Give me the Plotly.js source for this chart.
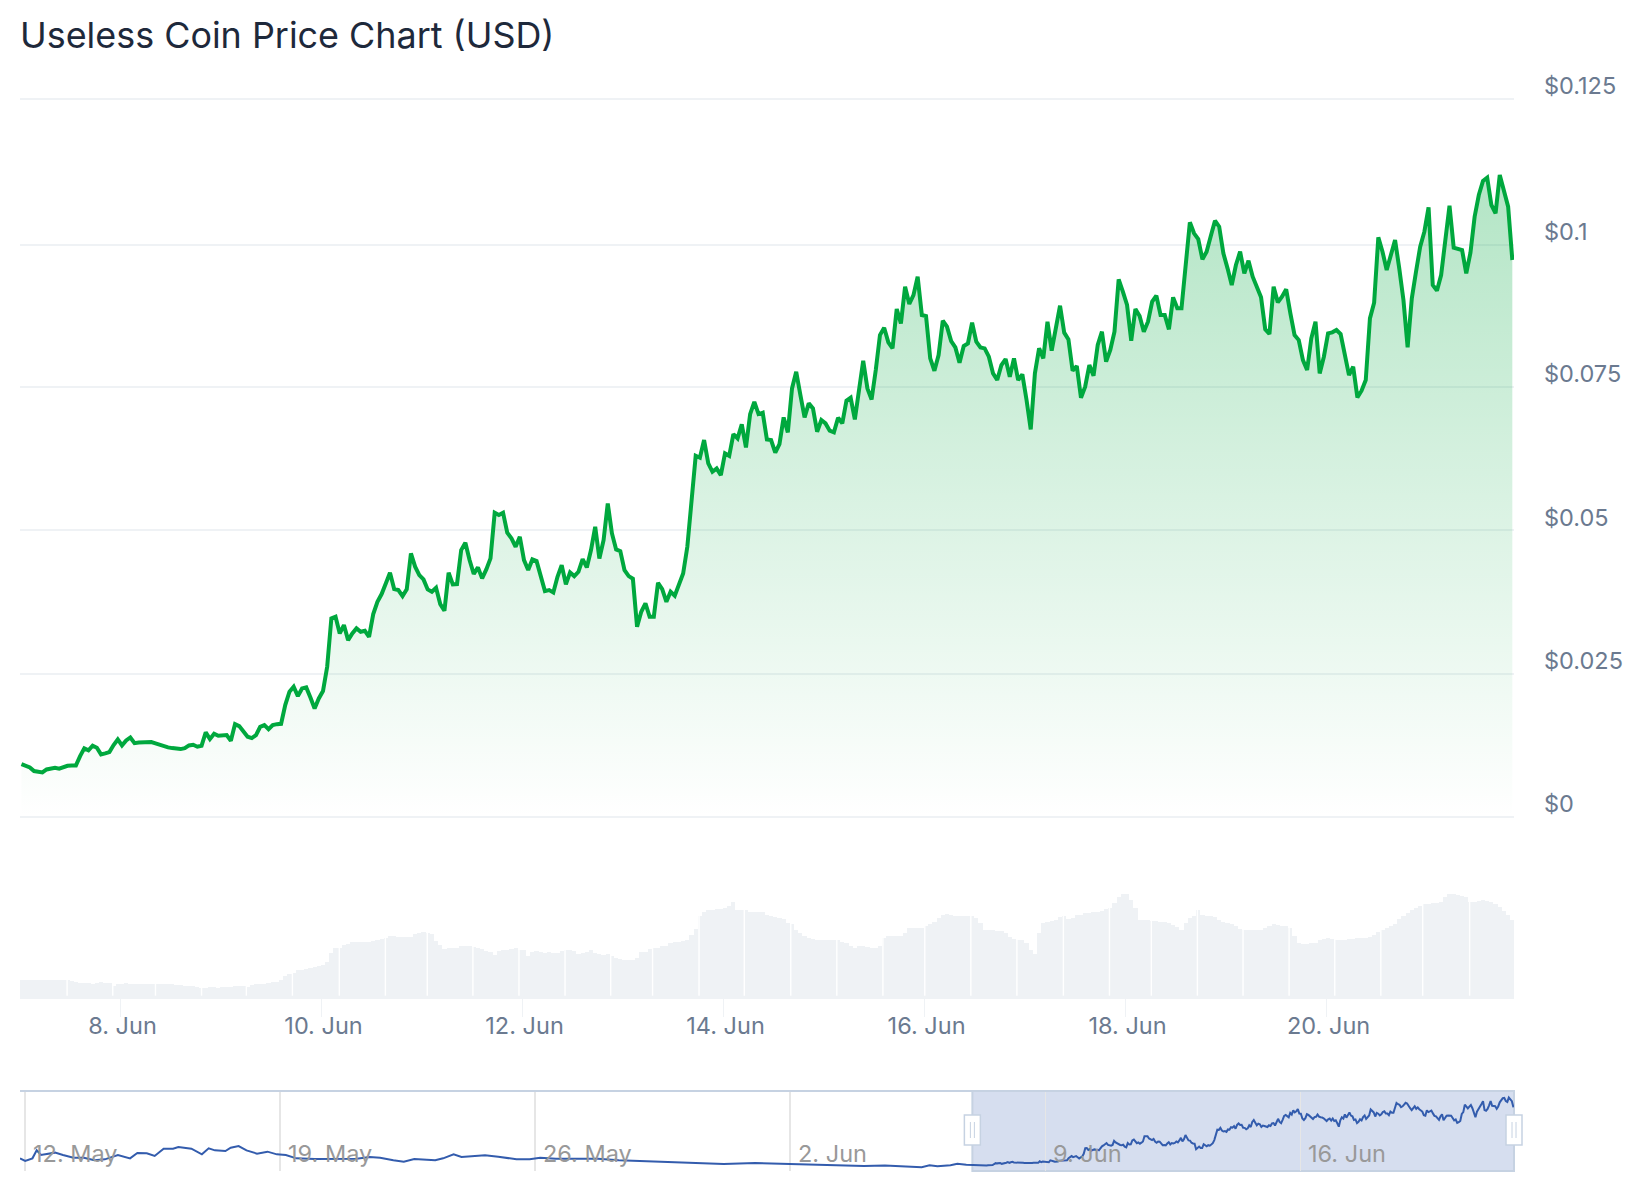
<!DOCTYPE html>
<html>
<head>
<meta charset="utf-8">
<script src="https://cdn.plot.ly/plotly-3.0.1.min.js"></script>
<style>html,body{margin:0;padding:0;background:#fff}</style>
</head>
<body>
<div id="chart" style="width:1644px;height:1200px"></div>
<script>
// Hourly price (USD). First reading 7 Jun 00:21.
const priceValues = [
.00925,.00896,.00867,.00803,.00791,.0078,.00832,.00855,.00861,.00844,.00879,.00896,.00902,.00902,.01065,.01199,.01164,.01245,.0121,.01094,
.01111,.01135,.01257,.01355,.01251,.01338,.0139,.01291,.01303,.01309,.01309,.01309,.01286,.01257,.01233,.01216,.01204,.01187,.01187,.01204,
.01251,.01262,.01228,.01245,.01478,.01361,.01454,.01419,.01425,.01431,.01332,.01623,.01588,.01489,.01402,.01379,.01431,.01575,.01605,.01535,
.01605,.01622,.01628,.0196,.02187,.02274,.02111,.02245,.02263,.02088,.01896,.0207,.02199,.02623,.03466,.03495,.03205,.0335,.03088,.03205,
.03292,.03234,.03251,.03146,.03542,.03757,.03891,.04077,.04263,.03978,.03961,.03856,.03972,.046,.04368,.04222,.04147,.03972,.03931,.04001,
.03716,.036,.04263,.04059,.04065,.04658,.04786,.04484,.0424,.04356,.04164,.04321,.04513,.0531,.05269,.0531,.04961,.04862,.04716,.04891,
.04483,.04309,.04495,.04466,.04193,.03943,.0396,.0392,.04193,.04396,.04059,.04268,.04204,.0428,.04501,.04355,.04658,.05065,.04512,.04832,
.05472,.04948,.04669,.0464,.04309,.04204,.04158,.0332,.03582,.03727,.03495,.03495,.04088,.03977,.03756,.03931,.03861,.04047,.0425,.04716,
.0553,.06303,.06269,.06577,.0617,.06024,.06082,.05966,.06344,.06303,.0668,.06606,.0685,.06449,.0703,.07245,.0703,.07054,.06588,.06577,
.06356,.06507,.06972,.06711,.07478,.07769,.07362,.06972,.07217,.07129,.06722,.06926,.06868,.0674,.06711,.06967,.06868,.07263,.07315,.06937,
.07449,.0796,.07478,.07286,.07798,.08409,.08537,.08281,.08176,.08862,.08612,.09252,.0895,.09106,.09426,.08758,.0874,.08002,.07786,.0806,
.08659,.08554,.08304,.08193,.07926,.08217,.08263,.08624,.08292,.08193,.08176,.08031,.0774,.07624,.07885,.0799,.07682,.08002,.07624,.07723,
.07275,.06764,.07741,.08177,.08002,.08642,.08136,.08555,.08921,.0845,.08334,.07787,.07869,.07316,.07508,.07886,.077,.08235,.08468,.07944,
.08148,.08468,.0938,.09165,.08933,.08311,.08863,.08741,.08468,.08642,.08991,.09096,.08758,.08758,.08508,.09066,.08875,.08875,.09601,.10375,
.10183,.10084,.09729,.09863,.10136,.10404,.10299,.09834,.09572,.09282,.09631,.09863,.09485,.09706,.09427,.09223,.09066,.08508,.08427,.09252,
.08979,.09078,.09206,.08787,.08409,.08322,.07973,.07799,.08351,.08642,.0774,.08031,.08438,.08456,.08496,.08426,.08089,.07711,.07857,.07322,
.07438,.07624,.087,.08973,.10113,.09863,.09543,.09805,.10066,.09572,.0902,.08194,.09049,.09514,.0995,.10212,.10636,.09281,.09183,.09456,
.10008,.10665,.09933,.09904,.09892,.09485,.09845,.10473,.10851,.11096,.11154,.10677,.10532,.112,.10939,.10648,.09718
];

// Hourly volume (millions USD, estimated: the chart shows no volume scale).
const volumeValues = [
17.3,17.3,17.3,17.3,17.3,17.3,17.3,17.3,17.3,17.3,17.3,17.3,16.3,15.3,14,13.7,13.7,13.3,13.7,14.7,
14,13.7,11.3,12.7,13,13.7,13.3,13,13,13,13,12.7,12.7,13,13,13,13,12.3,12,11,
10.7,10.7,10,9,9,10,10,9.3,10,9.7,9.7,10.7,11,11,10,12,12.7,13,13.3,13.7,
14.7,15,16.7,20.7,22.7,24,27,27.3,28,28.7,30,31.3,32.3,34.7,44,48.7,49,52,53.3,54.7,
55,55.3,55.3,55.3,55.7,57.3,58,59,60.7,60.7,60,59.7,59.7,60,63.3,64.3,65,64,63.3,55.7,
52.3,48,49,49,49,51.3,51.3,51.3,49.7,48.7,48,45.7,45.3,42.3,45.7,46.7,47.3,48.3,48.7,46.7,
46.7,41.3,44.7,45.7,45,44,44.7,44,44,46,47.3,46.7,46,43.3,44,44.7,46.7,44,43.3,42.3,
42.7,41.3,39,38,37.3,37.3,37.3,39,44.7,45.3,48,49,49,50.7,51.3,54,55.3,55.3,56,57.3,
62.3,68,80.7,85.3,86.7,87,88,88.3,89,91.3,94.7,87.3,87.3,86.7,85,85,84.7,84.7,82.3,80.7,
80,79,78,74,73.3,67.3,64,60.7,58.7,58,57.3,56.7,57.3,57.3,57.3,57.3,55.3,54,51.3,49,
50.7,51.3,50,49,49,51.3,59,61.3,61.3,61.3,61.3,64,68.7,69,69,69,70.7,73,74.7,79,
82.3,83,81.7,81.3,81.3,81.3,81.3,80.7,79,74,67.3,66.7,66.7,66.3,65.7,64,60,58,57.3,57,
54,46.7,43.3,64,74,74.7,76,77.3,80,80.7,78,78.7,81.7,82.3,84,84,84.7,85.3,85.7,88,
89,94,100,102.7,103.3,97.3,89,77.3,77,76.7,76,75.7,75.3,74.7,74,72.3,70,67.3,74,79,
81.3,87.3,82,81.3,80.7,80,77.3,75.3,74,72.7,70.7,68.3,67.3,67.3,67,66.7,66.7,69,71.3,73,
72,71.3,70.7,69,60.7,54,53.3,53.3,53.7,54,56.7,58,58.7,58,57.3,57.3,57.3,57.7,58,59,
59.3,59.3,60,62.3,64.7,67.3,69,71.3,73.3,78,80.7,84,87.3,89.3,91.3,93,93.3,93.7,94,94.7,
100,103.3,102.7,102,101.3,100,94.7,95.3,96,96.7,95.7,94.7,93.3,90,85.7,82.3,77.3
];

// Thin white seams seen in the volume block, in hours after the first reading.
const volumeSeams = [10.9,21.8,32,43,53.7,64.7,75.9,86.9,96.9,107.8,118.8,129.8,140.7,150.7,161.8,172.6,183.7,
194.7,205.7,215.7,226.7,237.7,248.8,259.8,269.8,280.8,291.7,302.7,313.6,324.6,334.6,345.8];

// Navigator history before the selected window: hours after 12 May 00:00, and price.
const navHours = [-3.3,.1,4.9,7.7,10.5,14.6,19.8,25,31.9,38.8,45.7,52.6,61.2,69.2,74,80.2,85.4,91.3,97.5,101,106.1,109.6,116.5,121,125.1,132,135.5,140.7,145.9,152.8,159.7,165.9,171.8,178.7,190.8,201.1,211.5,218.4,227,233.9,242.6,249.5,256.4,263.3,270.2,275.4,282.3,287.5,294.4,303,311.7,323.7,332.4,339.3,349.7,363.5,377.3,391.1,404.9,418.7,425.6,439.5,460.2,480.9,501.6,515.4,525,545.7,552.6,566.4,576.8,590.6,595.8,601,609.6,614.1,620];
const navValues = [.0193,.0153,.0193,.0315,.0244,.0265,.028,.0244,.0203,.0203,.0163,.0178,.0244,.0193,.0275,.027,.0229,.0341,.0341,.0366,.0346,.0341,.0254,.0346,.0315,.0305,.0356,.0381,.0315,.0265,.0295,.0254,.0244,.0193,.0183,.0183,.0193,.0188,.0214,.0203,.0163,.0143,.0183,.0173,.0163,.0193,.0254,.0214,.0224,.0239,.0219,.0178,.0178,.0203,.0188,.0183,.0188,.0163,.0153,.0137,.0143,.0122,.0107,.0122,.0112,.0097,.0092,.0087,.0076,.0082,.0071,.0056,.0087,.0071,.0087,.0112,.0097];

const priceTickVals = [0,.025,.05,.075,.0998,.1253];
const priceTickLabels = ['$0','$0.025','$0.05','$0.075','$0.1','$0.125'];
const dateTickVals = ['2025-06-08','2025-06-10','2025-06-12','2025-06-14','2025-06-16','2025-06-18','2025-06-20'];
const dateTickLabels = ['8. Jun','10. Jun','12. Jun','14. Jun','16. Jun','18. Jun','20. Jun'];
const navTickVals = ['2025-05-12','2025-05-19','2025-05-26','2025-06-02','2025-06-09','2025-06-16'];
const navTickLabels = ['12. May','19. May','26. May','2. Jun','9. Jun','16. Jun'];

const HOUR = 3600000;
const iso = t => new Date(t).toISOString().slice(0, 19);
const priceStart = Date.UTC(2025, 5, 7, 0, 21);
const navBase = Date.UTC(2025, 4, 12);
const priceDates = priceValues.map((_, i) => iso(priceStart + i * HOUR));
const navDates = navHours.map(h => iso(navBase + h * HOUR)).concat(priceDates);
const navSeries = navValues.concat(priceValues);

const mainRange = ['2025-06-07 00:00:00', '2025-06-21 20:45:00'];
const navRange = ['2025-05-11 20:42:00', '2025-06-21 20:45:00'];
const navStartMs = Date.parse(navRange[0].replace(' ', 'T') + 'Z');
const navEndMs = Date.parse(navRange[1].replace(' ', 'T') + 'Z');
const windowStartMs = Date.UTC(2025, 5, 7);
const windowFrac = (windowStartMs - navStartMs) / (navEndMs - navStartMs);

const fy = px => 1 - px / 1200;
const OUTLINE = '#c6d2e2';
const BAR = '#eff2f5';
const LABEL = '#6b7a90';

const traces = [
  {type:'bar', x:priceDates, y:volumeValues, xaxis:'x', yaxis:'y2', width:HOUR,
   marker:{color:BAR, line:{width:0}}, hoverinfo:'skip'},
  {type:'scatter', mode:'lines', x:priceDates, y:priceValues, xaxis:'x', yaxis:'y',
   line:{color:'#00a83e', width:4, shape:'linear'}, fill:'tozeroy',
   fillgradient:{type:'vertical', colorscale:[[0,'rgba(0,168,62,0)'],[1,'rgba(0,168,62,0.3)']]},
   hoverinfo:'skip'},
  {type:'scatter', mode:'lines', x:navDates, y:navSeries, xaxis:'x2', yaxis:'y3',
   line:{color:'#335cad', width:2}, hoverinfo:'skip'}
];

const shapes = [];
volumeSeams.forEach(h => {
  const d = iso(priceStart + h * HOUR);
  shapes.push({type:'line', xref:'x', yref:'y2', x0:d, x1:d, y0:1.3, y1:107, layer:'above',
    line:{color:'#ffffff', width:1.4}});
});
// navigator outline and selected window
shapes.push({type:'line', xref:'paper', yref:'paper', x0:0, x1:1, y0:fy(1091), y1:fy(1091),
  layer:'above', line:{color:OUTLINE, width:2}});
shapes.push({type:'rect', xref:'paper', yref:'paper', x0:windowFrac, x1:1, y0:fy(1171), y1:fy(1091),
  layer:'below', fillcolor:'rgba(51,92,173,0.2)', line:{color:OUTLINE, width:2}});
[windowFrac, 1].forEach(a => {
  shapes.push({type:'rect', xref:'paper', yref:'paper', xsizemode:'pixel', xanchor:a, x0:-8, x1:8,
    y0:fy(1145), y1:fy(1115), layer:'above', fillcolor:'#ffffff', line:{color:OUTLINE, width:1.5}});
  [-2, 2].forEach(dx => shapes.push({type:'line', xref:'paper', yref:'paper', xsizemode:'pixel', xanchor:a,
    x0:dx, x1:dx, y0:fy(1138), y1:fy(1122), layer:'above', line:{color:OUTLINE, width:1}}));
});

const annotations = navTickVals.map((d, i) => ({
  x:d, xref:'x2', y:fy(1153), yref:'paper', text:navTickLabels[i], showarrow:false,
  xanchor:'left', yanchor:'middle', xshift:6, font:{family:'Inter', size:23.5, color:'#999999'}
}));

const layout = {
  width:1644, height:1200, autosize:false,
  margin:{l:20, r:130, t:0, b:0, pad:0},
  paper_bgcolor:'#ffffff', plot_bgcolor:'rgba(0,0,0,0)',
  showlegend:false, bargap:0, hovermode:false,
  font:{family:'Inter', color:LABEL, size:20},
  title:{text:'Useless Coin Price Chart (USD)', x:20/1644, xref:'container', xanchor:'left',
         y:1-35/1200, yref:'container', yanchor:'middle',
         font:{family:'Inter', size:35.9, color:'#1e293b'}},
  xaxis:{type:'date', domain:[0,1], range:mainRange, anchor:'y2', showgrid:false, zeroline:false,
         tickmode:'array', tickvals:dateTickVals, ticktext:dateTickLabels,
         ticks:'outside', ticklen:18, tickwidth:1, tickcolor:BAR,
         showline:true, linecolor:BAR, linewidth:2, ticklabelstandoff:-11, ticklabelshift:2,
         tickfont:{family:'Inter', size:23.5, color:LABEL}},
  yaxis:{domain:[fy(820), fy(91.9)], range:[-.0005,.1265], anchor:'x', side:'right',
         tickmode:'array', tickvals:priceTickVals, ticktext:priceTickLabels,
         showgrid:true, gridcolor:BAR, gridwidth:2, zeroline:false, showline:false, ticks:'',
         ticklabelstandoff:29, ticklabelshift:-13,
         tickfont:{family:'Inter', size:23.5, color:LABEL}},
  yaxis2:{domain:[fy(997), fy(890)], range:[0,107], anchor:'x', showgrid:false, zeroline:false,
          showticklabels:false, ticks:'', showline:false},
  xaxis2:{type:'date', domain:[0,1], range:navRange, anchor:'y3', showgrid:true, gridcolor:'#e6e6e6', gridwidth:1.5,
          tickmode:'array', tickvals:navTickVals, zeroline:false, showticklabels:false, ticks:'', showline:false},
  yaxis3:{domain:[fy(1171), fy(1091)], range:[0,.122], anchor:'x2', showgrid:false, zeroline:false,
          showticklabels:false, ticks:'', showline:false},
  shapes:shapes, annotations:annotations
};

Plotly.newPlot('chart', traces, layout, {displayModeBar:false, staticPlot:true});
</script>
</body>
</html>
